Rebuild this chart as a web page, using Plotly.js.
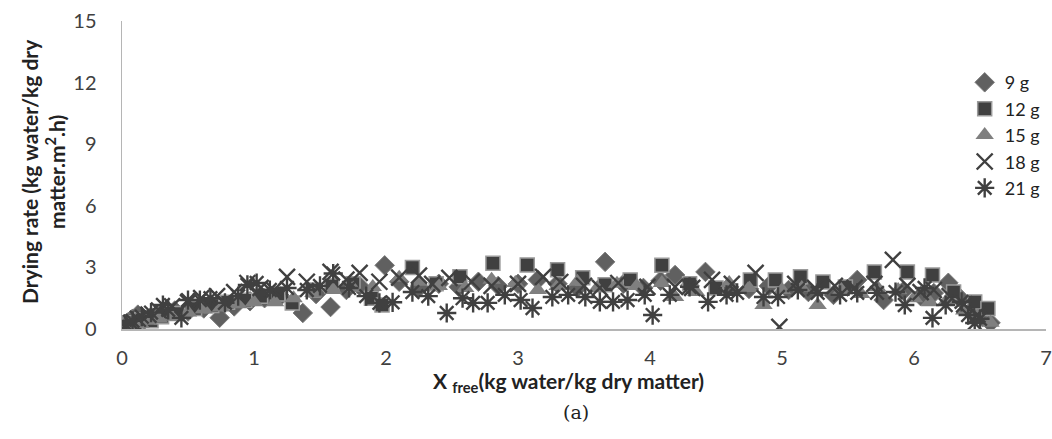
<!DOCTYPE html>
<html>
<head>
<meta charset="utf-8">
<script src="https://cdn.plot.ly/plotly-3.0.1.min.js"></script>
<style>html,body{margin:0;padding:0;background:#fff;}#chart{width:1052px;height:439px;}</style>
</head>
<body>
<div id="chart"></div>
<script>
const seriesNames = ["9 g", "12 g", "15 g", "18 g", "21 g"];

const x9 = [0.02,0.05,0.08,0.12,0.17,0.22,0.30,0.40,0.50,0.62,0.74,0.85,0.97,1.08,1.20,1.37,1.47,1.58,1.70,1.80,1.99,2.10,2.25,2.40,2.55,2.70,2.85,3.00,3.15,3.30,3.45,3.66,3.80,3.95,4.08,4.19,4.30,4.42,4.60,4.75,4.90,5.05,5.20,5.39,5.57,5.77,5.92,6.05,6.15,6.26,6.35,6.45,6.52,6.58];
const y9 = [0.25,0.35,0.50,0.70,0.45,0.60,0.75,0.90,0.85,1.00,0.55,1.10,1.35,1.50,1.60,0.78,1.70,1.07,1.90,2.10,3.10,2.30,2.00,2.20,2.05,2.30,2.10,2.20,2.40,2.20,2.00,3.27,2.20,2.00,2.35,2.63,2.10,2.78,2.05,1.95,2.10,1.90,1.80,1.66,2.39,1.41,1.85,1.60,1.75,2.25,1.50,0.90,0.60,0.30];

const x12 = [0.02,0.06,0.10,0.15,0.22,0.30,0.42,0.55,0.68,0.80,0.93,1.05,1.18,1.29,1.45,1.59,1.75,1.89,1.97,2.20,2.38,2.56,2.81,3.07,3.30,3.49,3.66,3.85,4.09,4.30,4.50,4.76,4.95,5.14,5.31,5.48,5.70,5.95,6.14,6.30,6.46,6.56];
const y12 = [0.15,0.30,0.20,0.45,0.40,0.60,0.75,1.00,1.15,1.30,1.40,1.60,1.70,1.27,1.90,2.10,2.20,1.50,1.17,3.00,2.20,2.54,3.20,3.12,2.88,2.49,2.15,2.39,3.10,2.20,2.00,2.39,2.39,2.54,2.29,2.05,2.78,2.78,2.63,1.80,1.32,1.00];

const x15 = [0.03,0.08,0.14,0.20,0.28,0.38,0.50,0.62,0.75,0.88,1.00,1.16,1.30,1.45,1.60,1.75,1.90,2.10,2.25,2.40,2.60,2.80,2.98,3.15,3.30,3.45,3.60,3.75,3.90,4.09,4.19,4.35,4.60,4.75,4.86,5.00,5.15,5.27,5.45,5.60,5.72,5.88,6.00,6.12,6.25,6.38,6.48,6.58];
const y15 = [0.20,0.30,0.25,0.40,0.50,0.60,0.80,0.95,1.05,1.20,1.30,1.30,1.50,1.75,1.90,2.00,2.05,2.50,2.30,2.10,2.00,2.40,2.24,1.90,2.10,2.30,2.00,2.20,2.10,2.24,1.56,1.80,2.24,2.00,1.17,1.90,2.00,1.17,1.90,1.70,2.05,1.90,1.50,1.30,1.40,0.90,0.60,0.30];

const x18 = [0.02,0.07,0.12,0.20,0.28,0.38,0.50,0.60,0.72,0.85,0.95,1.05,1.15,1.25,1.40,1.58,1.70,1.80,1.95,2.10,2.25,2.35,2.48,2.65,2.80,3.00,3.19,3.32,3.50,3.62,3.76,3.98,4.19,4.32,4.47,4.62,4.80,4.98,5.10,5.25,5.40,5.55,5.70,5.84,5.95,6.05,6.15,6.27,6.38,6.48];
const y18 = [0.10,0.30,0.50,0.70,0.90,1.10,1.30,1.50,1.60,1.80,2.24,2.00,1.90,2.54,2.30,2.78,2.40,2.73,2.30,2.50,2.60,2.20,2.49,2.30,2.10,2.20,2.54,2.29,2.10,2.00,2.24,2.05,2.05,2.00,2.39,2.20,2.73,0.10,2.20,2.00,2.10,2.00,2.20,3.37,2.10,1.80,1.90,1.60,1.20,0.70];

const x21 = [0.03,0.08,0.15,0.22,0.31,0.35,0.45,0.50,0.59,0.67,0.78,0.88,0.95,1.02,1.12,1.25,1.40,1.50,1.60,1.72,1.85,1.95,2.05,2.20,2.32,2.46,2.58,2.66,2.77,2.90,3.02,3.11,3.26,3.38,3.51,3.62,3.72,3.83,3.96,4.02,4.15,4.30,4.44,4.58,4.66,4.86,4.97,5.12,5.27,5.44,5.57,5.72,5.86,5.93,6.08,6.14,6.24,6.36,6.41,6.46,6.50];
const y21 = [0.20,0.40,0.60,0.80,1.17,0.93,0.54,1.41,1.41,1.50,1.27,1.60,2.15,2.24,1.90,2.00,1.90,2.10,2.70,2.00,1.60,1.27,1.30,1.80,1.60,0.78,1.50,1.27,1.27,1.66,1.41,1.02,1.56,1.66,1.56,1.32,1.32,1.41,1.66,0.68,1.66,2.05,1.32,1.66,1.76,1.56,1.56,1.90,1.76,1.66,1.76,1.76,1.80,1.17,2.00,0.54,1.17,1.32,0.68,0.29,0.50];

const traces = [
  {x: x9, y: y9, name: seriesNames[0], type: 'scatter', mode: 'markers',
   marker: {symbol: 'diamond', size: 15, color: '#606060', line: {width: 1, color: '#7a7a7a'}}},
  {x: x12, y: y12, name: seriesNames[1], type: 'scatter', mode: 'markers',
   marker: {symbol: 'square', size: 14, color: '#404040', line: {width: 1.5, color: '#9a9a9a'}}},
  {x: x15, y: y15, name: seriesNames[2], type: 'scatter', mode: 'markers',
   marker: {symbol: 'triangle-up', size: 16, color: '#7f7f7f', line: {width: 0}}},
  {x: x18, y: y18, name: seriesNames[3], type: 'scatter', mode: 'markers',
   marker: {symbol: 'x-thin-open', size: 16, color: '#404040', line: {width: 2.4, color: '#404040'}}},
  {x: x21, y: y21, name: seriesNames[4], type: 'scatter', mode: 'markers',
   marker: {symbol: 'asterisk-open', size: 16, color: '#404040', line: {width: 2.4, color: '#404040'}}}
];

const layout = {
  width: 1052, height: 439,
  margin: {l: 122, r: 6, t: 21, b: 110},
  paper_bgcolor: '#ffffff', plot_bgcolor: '#ffffff',
  font: {family: 'Lato, "Open Sans", sans-serif', color: '#404040'},
  xaxis: {
    range: [0, 7], dtick: 1, tick0: 0, showgrid: false, zeroline: false,
    showline: true, linecolor: '#b5b5b5', linewidth: 1.5,
    ticks: 'outside', ticklen: 10, tickcolor: 'rgba(0,0,0,0)',
    tickfont: {size: 20, color: '#404040'}
  },
  yaxis: {
    range: [0, 15], dtick: 3, tick0: 0, showgrid: false, zeroline: false,
    showline: true, linecolor: '#b5b5b5', linewidth: 1.5,
    ticks: 'outside', ticklen: 20, tickcolor: 'rgba(0,0,0,0)',
    tickfont: {size: 20, color: '#404040'}
  },
  showlegend: true,
  legend: {x: 0.912, y: 0.86, xanchor: 'left', yanchor: 'top', bgcolor: 'rgba(0,0,0,0)',
           font: {size: 18, color: '#222'}, itemwidth: 30, traceorder: 'normal'},
  annotations: [
    {text: 'X <sub>free</sub>(kg water/kg dry matter)', xref: 'paper', yref: 'paper', x: 0.4827, y: -0.172,
     xanchor: 'center', yanchor: 'middle', showarrow: false,
     font: {size: 21, color: '#222', weight: 'bold'}},
    {text: 'Drying rate (kg water/kg dry<br>matter.m<sup>2</sup>.h)', xref: 'paper', yref: 'paper', x: -0.0855, y: 0.513,
     xanchor: 'center', yanchor: 'middle', textangle: -90, showarrow: false,
     font: {size: 21, color: '#222', weight: 'bold'}},
    {text: '(a)', xref: 'paper', yref: 'paper', x: 0.4913, y: -0.27, xanchor: 'center', yanchor: 'middle',
     showarrow: false, font: {family: '"DejaVu Serif", "Liberation Serif", serif', size: 19, color: '#222'}}
  ]
};

Plotly.newPlot('chart', traces, layout, {displayModeBar: false, staticPlot: true});
</script>
</body>
</html>
